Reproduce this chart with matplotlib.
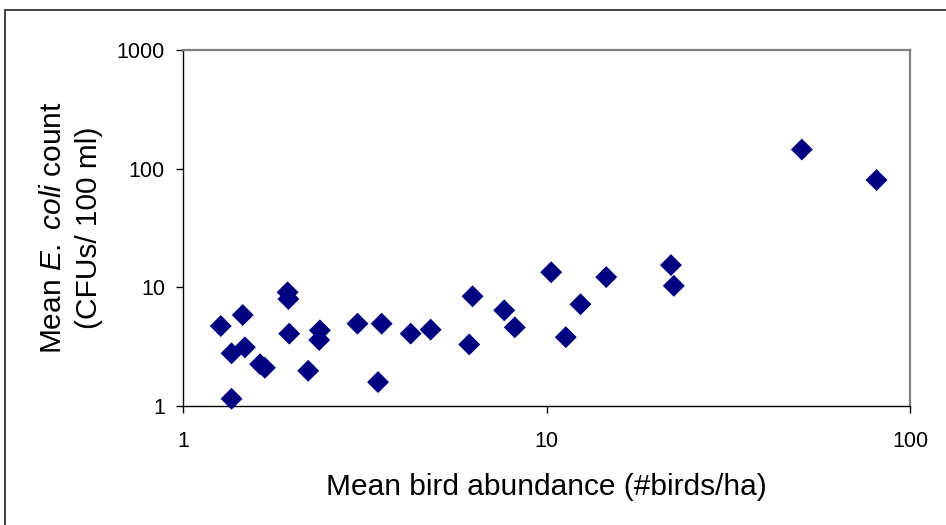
import numpy as np
import matplotlib
matplotlib.use("Agg")
from matplotlib import pyplot as plt
import matplotlib.patches as mpatches

# values (log-log scatter)
bird_abundance = [1.27, 1.36, 1.36, 1.46, 1.48, 1.63, 1.68, 1.94, 1.95, 1.96,
                  2.21, 2.38, 2.37, 3.02, 3.44, 3.52, 4.23, 4.80, 6.13, 6.26,
                  7.65, 8.18, 10.3, 11.3, 12.4, 14.6, 22.0, 22.4, 50.4, 80.9]
ecoli_count = [4.72, 2.78, 1.15, 5.84, 3.12, 2.25, 2.10, 9.08, 7.97, 4.07,
               1.98, 4.34, 3.60, 4.94, 1.59, 4.94, 4.07, 4.40, 3.30, 8.40,
               6.40, 4.60, 13.4, 3.80, 7.20, 12.2, 15.4, 10.3, 145.0, 80.2]

x_ticks = [1, 10, 100]
y_ticks = [1, 10, 100, 1000]

plt.rcParams["font.family"] = ["Liberation Sans", "DejaVu Sans"]
plt.rcParams["mathtext.fontset"] = "custom"
plt.rcParams["mathtext.rm"] = "Liberation Sans"
plt.rcParams["mathtext.it"] = "Liberation Sans:italic"

fig = plt.figure(figsize=(9.46, 5.25), dpi=100)
ax = fig.add_axes([183 / 946, 1 - 406 / 525, (910 - 183) / 946, (406 - 50) / 525])

ax.scatter(bird_abundance, ecoli_count, marker="D", s=125, color="#000080",
           edgecolors="none", zorder=3, clip_on=False)

ax.set_xscale("log")
ax.set_yscale("log")
ax.set_xlim(1, 100)
ax.set_ylim(1, 1000)
ax.set_xticks(x_ticks)
ax.set_xticklabels([str(v) for v in x_ticks])
ax.set_yticks(y_ticks)
ax.set_yticklabels([str(v) for v in y_ticks])
ax.minorticks_off()
ax.tick_params(axis="x", direction="out", length=5, width=1, labelsize=15.5, pad=13)
ax.tick_params(axis="y", direction="out", length=5, width=1, labelsize=15.5, pad=8)

for side in ["left", "bottom"]:
    ax.spines[side].set_color("black")
    ax.spines[side].set_linewidth(1)
for side in ["top", "right"]:
    ax.spines[side].set_color("#808080")
    ax.spines[side].set_linewidth(1.6)

ax.set_xlabel("Mean bird abundance (#birds/ha)", fontsize=21.5, labelpad=15)

# two-line y label, E. coli in italics
fig.text(53 / 946, 1 - 228 / 525, r"Mean $\mathit{E.}$ $\mathit{coli}$ count", rotation=90,
         fontsize=21.5, ha="center", va="center")
fig.text(89 / 946, 1 - 228 / 525, "(CFUs/ 100 ml)", rotation=90,
         fontsize=21.5, ha="center", va="center")

# outer chart border (right and bottom edges fall outside the image)
fig.patches.append(mpatches.Rectangle((5 / 946, -0.1), 2, 1 - 10 / 525 + 0.1,
                                      transform=fig.transFigure, fill=False,
                                      edgecolor="#222222", linewidth=1.2))

fig.savefig("out.png", dpi=100)
